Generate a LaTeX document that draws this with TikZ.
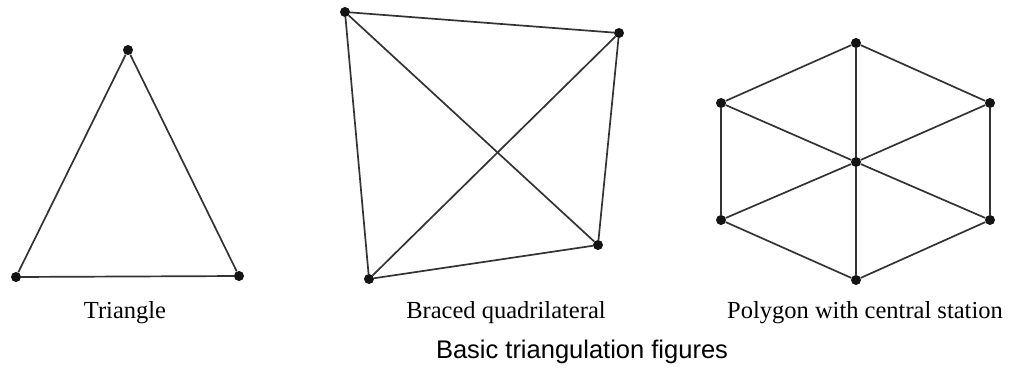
\documentclass[tikz,border=0pt]{standalone}
\usepackage{fontspec}
\setmainfont{Liberation Serif}
\newfontfamily\capfont{Liberation Sans}
\begin{document}
\begin{tikzpicture}[x=1pt,y=-1pt,
  dot/.style={circle,fill=black!92,inner sep=0pt,minimum size=10pt},
  edge/.style={draw=black!80,line width=1.7pt},
  lbl/.style={anchor=base,inner sep=0pt,font=\fontsize{24.5}{29}\selectfont},
  captionlbl/.style={anchor=base,inner sep=0pt,font=\capfont\fontsize{25.5}{30}\selectfont}]
\useasboundingbox (0,0) rectangle (1012,369);
% Triangle
\node[dot] (t1) at (128,50) {};
\node[dot] (t2) at (16,277) {};
\node[dot] (t3) at (239,276) {};
\draw[edge] (t1) -- (t2) -- (t3) -- (t1);
% Braced quadrilateral
\node[dot] (q1) at (345,12) {};
\node[dot] (q2) at (619,33) {};
\node[dot] (q3) at (598,245) {};
\node[dot] (q4) at (369,279) {};
\draw[edge] (q1) -- (q2) -- (q3) -- (q4) -- (q1);
\draw[edge] (q1) -- (q3);
\draw[edge] (q2) -- (q4);
% Hexagon
\node[dot] (h1) at (856,43) {};
\node[dot] (h2) at (990,103) {};
\node[dot] (h3) at (990,220) {};
\node[dot] (h4) at (856,280) {};
\node[dot] (h5) at (721,220) {};
\node[dot] (h6) at (721,103) {};
\node[dot] (hc) at (856,162) {};
\draw[edge] (h1) -- (h2) -- (h3) -- (h4) -- (h5) -- (h6) -- (h1);
\foreach \h in {h1,h2,h3,h4,h5,h6} \draw[edge] (hc) -- (\h);
% Labels
\node[lbl] (lt) at (125,318) {Triangle};
\node[lbl] (lq) at (506,318) {Braced quadrilateral};
\node[lbl] (lh) at (865,318) {Polygon with central station};
\node[captionlbl] (lc) at (582,358) {Basic triangulation figures};
\end{tikzpicture}
\end{document}
